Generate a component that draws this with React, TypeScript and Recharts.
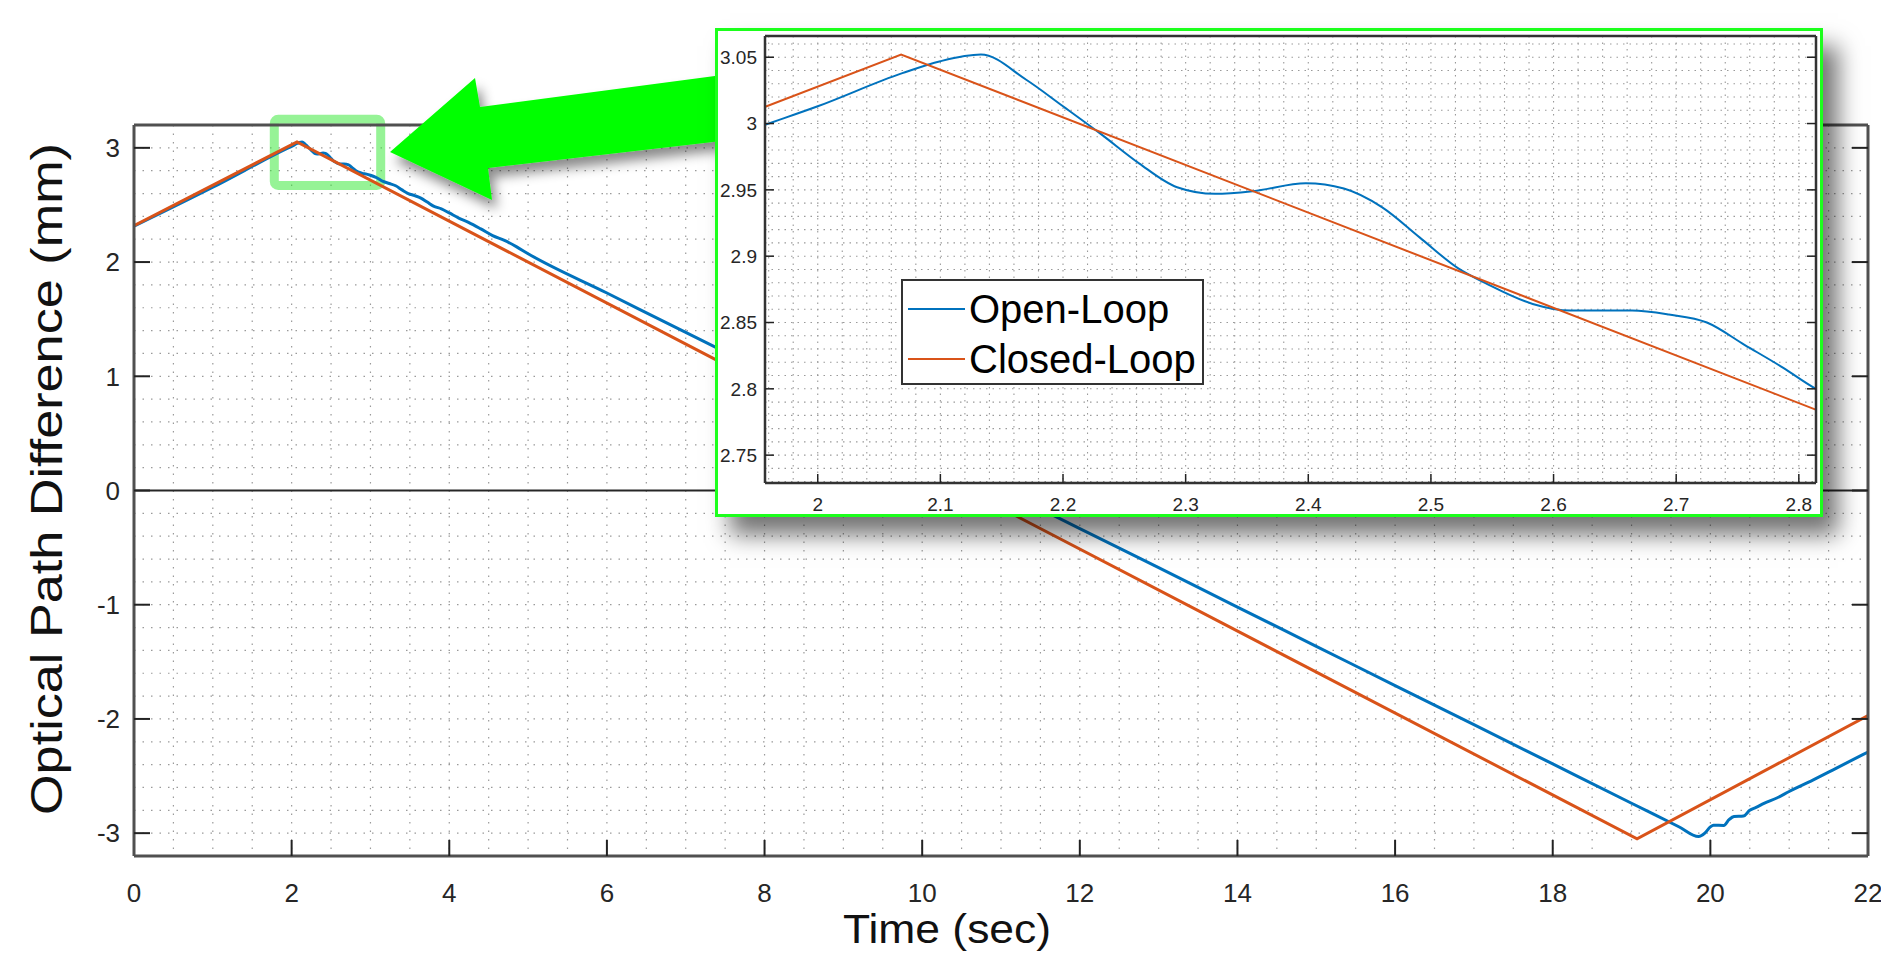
import React from 'react';
import {
  CartesianGrid,
  Legend,
  Line,
  LineChart,
  ReferenceArea,
  ReferenceLine,
  XAxis,
  YAxis,
} from 'recharts';

// Open-loop (blue) OPD samples
const OPEN_T = [
  0, 1.0, 1.957, 2.0, 2.069, 2.1, 2.133, 2.17, 2.2, 2.231, 2.262, 2.293, 2.324, 2.355, 2.398, 2.429,
  2.46, 2.491, 2.522, 2.546, 2.583, 2.614, 2.664, 2.694, 2.725, 2.756, 2.787, 2.814, 2.85, 2.9, 2.95,
  3.0, 3.08, 3.16, 3.24, 3.32, 3.4, 3.48, 3.56, 3.64, 3.72, 3.8, 3.9, 4.0, 4.12, 4.25, 4.4, 4.55, 4.7,
  4.85, 5.0, 6, 7, 8, 9, 10, 11, 12, 13, 14, 15, 16, 17, 18, 19, 19.6, 19.85, 19.93, 20.0, 20.04,
  20.17, 20.24, 20.3, 20.42, 20.5, 20.58, 20.68, 20.85, 21.0, 21.3, 21.6, 22.0,
];
const OPEN_V = [
  2.314, 2.655, 2.999, 3.013, 3.038, 3.047, 3.052, 3.033, 3.013, 2.992, 2.97, 2.952, 2.947, 2.949,
  2.955, 2.951, 2.937, 2.914, 2.891, 2.879, 2.864, 2.859, 2.859, 2.856, 2.85, 2.833, 2.816, 2.8,
  2.787, 2.776, 2.77, 2.76, 2.738, 2.706, 2.688, 2.668, 2.632, 2.6, 2.582, 2.56, 2.525, 2.49, 2.466,
  2.43, 2.385, 2.345, 2.29, 2.232, 2.19, 2.135, 2.073, 1.729, 1.384, 1.042, 0.697, 0.353, 0.012,
  -0.334, -0.676, -1.021, -1.364, -1.708, -2.05, -2.394, -2.738, -2.944, -3.03, -3.0, -2.945, -2.93,
  -2.932, -2.88, -2.855, -2.85, -2.8, -2.775, -2.74, -2.69, -2.635, -2.535, -2.43, -2.29,
];

// Closed-loop (orange) OPD
const CLOSED_T = [0, 2.068, 19.07, 22];
const CLOSED_V = [2.318, 3.052, -3.05, -1.97];

const SERIES_ORDER = ['Open-Loop', 'Closed-Loop'];

const MAIN_X_TICKS = [0, 2, 4, 6, 8, 10, 12, 14, 16, 18, 20, 22];
const MAIN_Y_TICKS = [-3, -2, -1, 0, 1, 2, 3];
const INSET_X_TICKS = [2, 2.1, 2.2, 2.3, 2.4, 2.5, 2.6, 2.7, 2.8];
const INSET_Y_TICKS = [2.75, 2.8, 2.85, 2.9, 2.95, 3, 3.05];

const MAIN_X_DOMAIN = [0, 22];
const MAIN_Y_DOMAIN = [-3.2, 3.2];
const INSET_X_DOMAIN = [1.957, 2.814];
const INSET_Y_DOMAIN = [2.729, 3.066];

// highlighted zoom region on the main plot
const ZOOM_BOX = {x1: 1.78, x2: 3.13, y1: 2.67, y2: 3.25};

const openData = OPEN_T.map((t, i) => ({t, v: OPEN_V[i]}));
const closedData = CLOSED_T.map((t, i) => ({t, v: CLOSED_V[i]}));

const range = (from: number, to: number, step: number) => {
  const out: number[] = [];
  const n = Math.round((to - from) / step);
  for (let i = 0; i <= n; i++) out.push(Math.round((from + i * step) * 1000) / 1000);
  return out;
};

const FONT = "'Liberation Sans', Arial, Helvetica, sans-serif";
const BLUE = '#0072BD';
const ORANGE = '#D95319';
const TEXT = '#262626';
const GRID = '#9a9a9a';

const InsetLegend = ({payload}: any) => {
  const items = [...(payload || [])].sort(
    (a: any, b: any) => SERIES_ORDER.indexOf(a.value) - SERIES_ORDER.indexOf(b.value),
  );
  return (
    <div
      style={{
        boxSizing: 'border-box',
        width: 303,
        height: 106,
        border: '2px solid #333',
        background: '#fff',
        padding: '3px 0 0 5px',
        fontFamily: FONT,
      }}
    >
      {items.map((p: any) => (
        <div key={p.value} style={{display: 'flex', alignItems: 'center', height: 50}}>
          <span style={{width: 57, borderTop: `2.5px solid ${p.color}`, marginRight: 4}} />
          <span style={{fontSize: 40, color: '#000', lineHeight: '50px'}}>{p.value}</span>
        </div>
      ))}
    </div>
  );
};

export default function App() {
  const noLabel = () => '';
  return (
    <div
      style={{
        position: 'absolute',
        left: 0,
        top: 0,
        width: 1881,
        height: 954,
        overflow: 'hidden',
        background: '#fff',
        fontFamily: FONT,
      }}
    >
      <div style={{position: 'absolute', left: 0, top: 0}}>
        <LineChart width={1881} height={954} margin={{top: 124, right: 12, bottom: 38, left: 74}}>
          <CartesianGrid
            stroke={GRID}
            strokeWidth={1.2}
            strokeDasharray="1.5 7"
            verticalValues={range(0.5, 21.5, 0.5)}
            horizontalValues={range(-3, 3, 0.2)}
          />
          <XAxis
            type="number"
            dataKey="t"
            domain={MAIN_X_DOMAIN}
            ticks={MAIN_X_TICKS}
            interval={0}
            allowDataOverflow
            height={60}
            tickSize={-16}
            tickMargin={44}
            axisLine={{stroke: '#505050', strokeWidth: 3}}
            tickLine={{stroke: '#222', strokeWidth: 2}}
            tick={{fill: TEXT, fontSize: 26, fontFamily: FONT}}
          />
          <XAxis
            xAxisId="top"
            orientation="top"
            type="number"
            domain={MAIN_X_DOMAIN}
            ticks={MAIN_X_TICKS}
            interval={0}
            allowDataOverflow
            height={1}
            tickSize={-16}
            tickFormatter={noLabel}
            axisLine={{stroke: '#505050', strokeWidth: 3}}
            tickLine={{stroke: '#222', strokeWidth: 2}}
          />
          <YAxis
            type="number"
            domain={MAIN_Y_DOMAIN}
            ticks={MAIN_Y_TICKS}
            interval={0}
            allowDataOverflow
            width={60}
            tickSize={-16}
            tickMargin={30}
            axisLine={{stroke: '#505050', strokeWidth: 3}}
            tickLine={{stroke: '#222', strokeWidth: 2}}
            tick={{fill: TEXT, fontSize: 26, fontFamily: FONT}}
          />
          <YAxis
            yAxisId="right"
            orientation="right"
            type="number"
            domain={MAIN_Y_DOMAIN}
            ticks={MAIN_Y_TICKS}
            interval={0}
            allowDataOverflow
            width={1}
            tickSize={-16}
            tickFormatter={noLabel}
            axisLine={{stroke: '#505050', strokeWidth: 3}}
            tickLine={{stroke: '#222', strokeWidth: 2}}
          />
          <ReferenceLine y={0} stroke="#262626" strokeWidth={2} />
          <Line
            data={openData}
            dataKey="v"
            name="Open-Loop"
            type="monotone"
            stroke={BLUE}
            strokeWidth={3}
            dot={false}
            isAnimationActive={false}
          />
          <Line
            data={closedData}
            dataKey="v"
            name="Closed-Loop"
            type="linear"
            stroke={ORANGE}
            strokeWidth={3}
            dot={false}
            isAnimationActive={false}
          />
          <ReferenceArea
            x1={ZOOM_BOX.x1}
            x2={ZOOM_BOX.x2}
            y1={ZOOM_BOX.y1}
            y2={ZOOM_BOX.y2}
            ifOverflow="visible"
            fill="none"
            stroke="#2ee82e"
            strokeOpacity={0.5}
            strokeWidth={9}
            radius={4}
            isAnimationActive={false}
          />
        </LineChart>
      </div>

      {/* axis titles and the pointer arrow */}
      <svg
        width={1881}
        height={954}
        style={{position: 'absolute', left: 0, top: 0, pointerEvents: 'none'}}
      >
        <defs>
          <filter id="arrowShadow" x="-20%" y="-30%" width="150%" height="180%">
            <feDropShadow dx="5" dy="9" stdDeviation="6" floodColor="#000" floodOpacity="0.45" />
          </filter>
        </defs>
        <polygon
          points="390,152 475,78 480,107 730,74 730,140 488,168 492,200"
          fill="#00ff00"
          filter="url(#arrowShadow)"
        />
        <text
          x={62}
          y={479}
          transform="rotate(-90 62 479)"
          textAnchor="middle"
          fontSize={44}
          fontFamily={FONT}
          fill="#111"
          textLength={672}
          lengthAdjust="spacingAndGlyphs"
        >
          Optical Path Difference (mm)
        </text>
        <text
          x={947}
          y={943}
          textAnchor="middle"
          fontSize={40}
          fontFamily={FONT}
          fill="#111"
          textLength={208}
          lengthAdjust="spacingAndGlyphs"
        >
          Time (sec)
        </text>
      </svg>

      {/* zoomed inset */}
      <div
        style={{
          position: 'absolute',
          left: 715,
          top: 28,
          width: 1108,
          height: 489,
          boxSizing: 'border-box',
          border: '3px solid #1cff1c',
          background: '#fff',
          boxShadow: '15px 18px 22px rgba(0,0,0,0.55)',
        }}
      >
        <LineChart width={1102} height={483} margin={{top: 4, right: 3, bottom: 0, left: 0}}>
          <CartesianGrid
            stroke={GRID}
            strokeWidth={1.1}
            strokeDasharray="1.5 5"
            verticalValues={range(1.96, 2.8, 0.02)}
            horizontalValues={range(2.73, 3.06, 0.01)}
          />
          <XAxis
            type="number"
            dataKey="t"
            domain={INSET_X_DOMAIN}
            ticks={INSET_X_TICKS}
            interval={0}
            allowDataOverflow
            height={31}
            tickSize={-9}
            tickMargin={24}
            axisLine={{stroke: '#333', strokeWidth: 2.5}}
            tickLine={{stroke: '#222', strokeWidth: 1.5}}
            tick={{fill: TEXT, fontSize: 19, fontFamily: FONT}}
          />
          <XAxis
            xAxisId="top"
            orientation="top"
            type="number"
            domain={INSET_X_DOMAIN}
            ticks={INSET_X_TICKS}
            interval={0}
            allowDataOverflow
            height={1}
            tickSize={-9}
            tickFormatter={noLabel}
            axisLine={{stroke: '#333', strokeWidth: 2.5}}
            tickLine={{stroke: '#222', strokeWidth: 1.5}}
          />
          <YAxis
            type="number"
            domain={INSET_Y_DOMAIN}
            ticks={INSET_Y_TICKS}
            interval={0}
            allowDataOverflow
            width={47}
            tickSize={-9}
            tickMargin={17}
            axisLine={{stroke: '#333', strokeWidth: 2.5}}
            tickLine={{stroke: '#222', strokeWidth: 1.5}}
            tick={{fill: TEXT, fontSize: 19, fontFamily: FONT}}
          />
          <YAxis
            yAxisId="right"
            orientation="right"
            type="number"
            domain={INSET_Y_DOMAIN}
            ticks={INSET_Y_TICKS}
            interval={0}
            allowDataOverflow
            width={1}
            tickSize={-9}
            tickFormatter={noLabel}
            axisLine={{stroke: '#333', strokeWidth: 2.5}}
            tickLine={{stroke: '#222', strokeWidth: 1.5}}
          />
          <Line
            data={openData}
            dataKey="v"
            name="Open-Loop"
            type="monotone"
            stroke={BLUE}
            strokeWidth={2}
            dot={false}
            isAnimationActive={false}
          />
          <Line
            data={closedData}
            dataKey="v"
            name="Closed-Loop"
            type="linear"
            stroke={ORANGE}
            strokeWidth={2}
            dot={false}
            isAnimationActive={false}
          />
          <Legend
            layout="vertical"
            align="center"
            verticalAlign="middle"
            wrapperStyle={{left: 183, top: 248, width: 303, height: 106}}
            content={InsetLegend}
          />
        </LineChart>
      </div>
    </div>
  );
}
